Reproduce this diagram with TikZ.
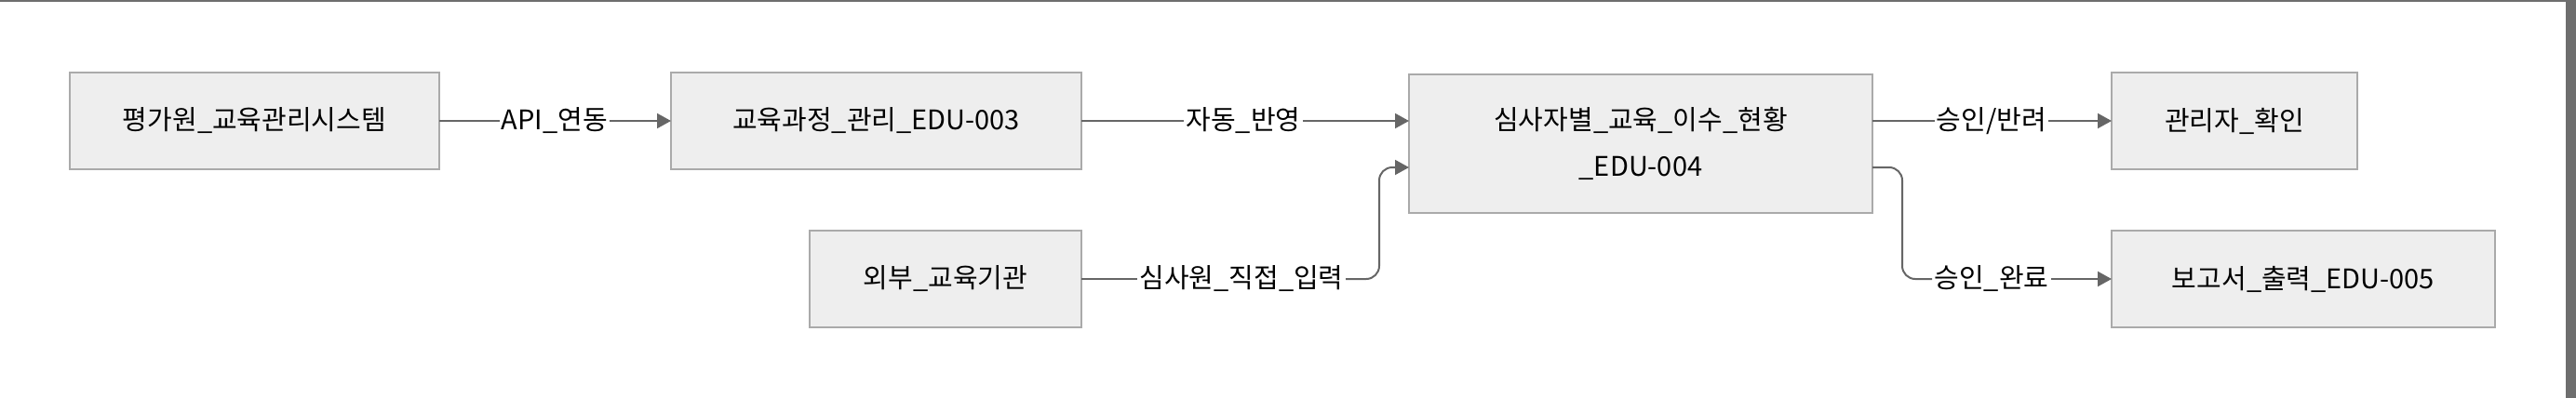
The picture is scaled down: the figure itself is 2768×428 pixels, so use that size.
\documentclass[tikz,border=0pt]{standalone}
\usepackage{fontspec}
\setmainfont{Noto Sans CJK KR}
\usetikzlibrary{arrows.meta}
\definecolor{boxfill}{HTML}{EEEEEE}
\definecolor{boxline}{HTML}{AAAAAA}
\definecolor{edgecol}{HTML}{666666}
\definecolor{framecol}{HTML}{6E6E6E}
\begin{document}
\begin{tikzpicture}[x=0.5pt,y=-0.5pt,
  box/.style={draw=boxline, fill=boxfill, line width=1pt, outer sep=0pt, inner sep=0pt,
    font=\fontsize{14.5pt}{25pt}\selectfont, align=center, anchor=north west},
  lbl/.style={inner xsep=1pt, inner ysep=2pt, font=\fontsize{14.5pt}{16pt}\selectfont},
  edge/.style={draw=edgecol, line width=1pt, -{Triangle[length=7.5pt,width=8pt]}},
  plain/.style={draw=edgecol, line width=1pt}
]
\useasboundingbox (0,0) rectangle (2768,428);
\fill[framecol] (0,0) rectangle (2768,2);
\fill[framecol] (2757,0) rectangle (2768,428);

\node[box, minimum width=198.5pt, minimum height=52pt] (b1) at (75,78) {평가원\_교육관리시스템};
\node[box, minimum width=220.5pt, minimum height=52pt] (b2) at (721,78) {교육과정\_관리\_EDU-003};
\node[box, minimum width=146pt, minimum height=52pt] (ext) at (870,248) {외부\_교육기관};
\node[box, minimum width=249pt, minimum height=74.5pt] (b3) at (1514,80) {심사자별\_교육\_이수\_현황\\\_EDU-004};
\node[box, minimum width=132pt, minimum height=52pt] (adm) at (2269,78) {관리자\_확인};
\node[box, minimum width=206pt, minimum height=52pt] (rep) at (2269,248) {보고서\_출력\_EDU-005};

\node[lbl] (l1) at (596,130) {API\_연동};
\node[lbl] (l2) at (1336,130) {자동\_반영};
\node[lbl] (l3) at (1334,300) {심사원\_직접\_입력};
\node[lbl] (l4) at (2140,130) {승인/반려};
\node[lbl] (l5) at (2140,300) {승인\_완료};

\coordinate (b3in) at (1514,180);
\coordinate (b3out) at (2012,180);

\draw[plain] (b1.east) -- (l1.west);
\draw[edge] (l1.east) -- (b2.west);
\draw[plain] (b2.east) -- (l2.west);
\draw[edge] (l2.east) -- (b3.west |- l2);
\draw[plain] (ext.east) -- (l3.west);
\draw[edge, rounded corners=7pt] (l3.east) -- (1482,300) -- (1482,180) -- (b3in);
\draw[plain] (b3.east |- l4) -- (l4.west);
\draw[edge] (l4.east) -- (adm.west);
\draw[plain, rounded corners=7pt] (b3out) -- (2044,180) -- (2044,300) -- (l5.west);
\draw[edge] (l5.east) -- (rep.west);
\end{tikzpicture}
\end{document}
